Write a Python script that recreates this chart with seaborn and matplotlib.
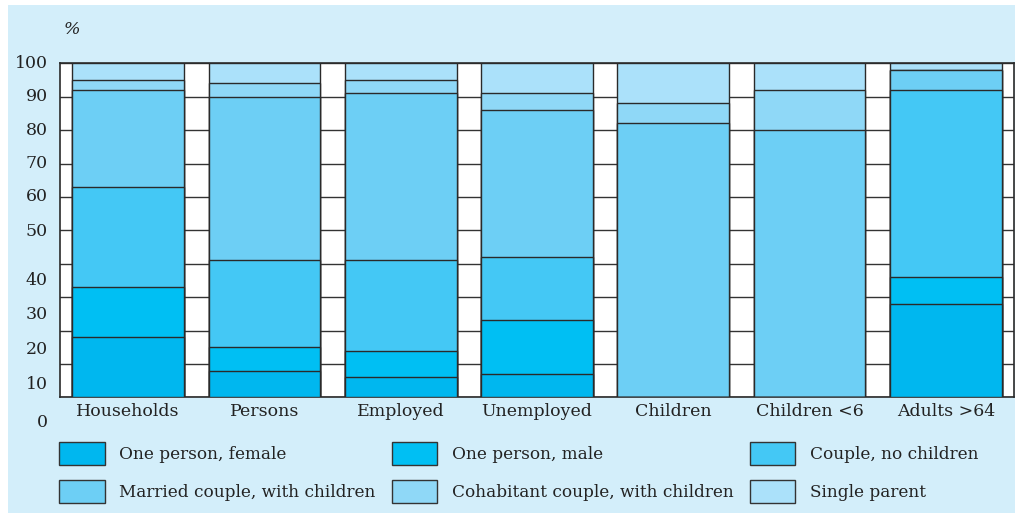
import numpy as np
import pandas as pd
import matplotlib
matplotlib.use("Agg")
import matplotlib.pyplot as plt
from matplotlib.patches import Patch, Rectangle
import seaborn as sns

# Data (percent shares)
groups = ["Households", "Persons", "Employed", "Unemployed", "Children", "Children <6", "Adults >64"]
series = ["One person, female", "One person, male", "Couple, no children",
          "Married couple, with children", "Cohabitant couple, with children", "Single parent"]
one_female = [18, 8, 6, 7, 0, 0, 28]
one_male = [15, 7, 8, 16, 0, 0, 8]
couple_no_children = [30, 26, 27, 19, 0, 0, 56]
married_children = [29, 49, 50, 44, 82, 80, 6]
cohabitant_children = [3, 4, 4, 5, 6, 12, 0]
single_parent = [5, 6, 5, 9, 12, 8, 2]

ytick_values = [100, 90, 80, 70, 60, 50, 40, 30, 20, 10, 0]
# the reference prints the lower labels slightly below their gridlines
ytick_label_pos = [100, 90, 80, 70, 60, 49.6, 35.1, 24.7, 14.2, 3.7, -7.4]

colors = ["#00B7EF", "#00BFF3", "#44C8F5", "#6DCFF5", "#8FD8F7", "#ABE1FA"]
BG = "#D3EEFA"
EDGE = "#2a2a2a"
FONT = "DejaVu Serif"
FS = 12.5

df = pd.DataFrame({"group": groups})
for name, vals in zip(series, [one_female, one_male, couple_no_children,
                               married_children, cohabitant_children, single_parent]):
    df[name] = vals
cum = df[series].cumsum(axis=1)

fig = plt.figure(figsize=(10.15, 5.13), dpi=100)
fig.patch.set_facecolor("white")
fig.patches.append(Rectangle((8 / 1015, 0), 1, (513 - 5) / 513, transform=fig.transFigure,
                             facecolor=BG, edgecolor="none", zorder=-10))

ax = fig.add_axes([60 / 1015, (513 - 397.3) / 513, (1014 - 60) / 1015, 334 / 513])
ax.set_facecolor("white")

# stacked bars: draw cumulative totals from the top segment down
for i in reversed(range(len(series))):
    sns.barplot(x=df["group"], y=cum[series[i]], color=colors[i], saturation=1,
                width=0.82, edgecolor=EDGE, linewidth=1, ax=ax, zorder=3)

ax.set_xlim(-0.5, 6.5)
ax.set_ylim(0, 100)
ax.set_yticks(ytick_values)
ax.yaxis.grid(True, color="#333333", linewidth=1)
ax.set_axisbelow(True)
ax.tick_params(axis="y", length=0, labelleft=False)
ax.tick_params(axis="x", length=0, pad=4)
ax.set_xlabel("")
ax.set_ylabel("")
for lbl in ax.get_xticklabels():
    lbl.set_fontfamily(FONT)
    lbl.set_fontsize(FS)
    lbl.set_color("#222222")
for s in ax.spines.values():
    s.set_color(EDGE)
    s.set_linewidth(1.2)

for v, p in zip(ytick_values, ytick_label_pos):
    ax.text(-0.59, p, str(v), ha="right", va="center", fontfamily=FONT,
            fontsize=FS, color="#222222", clip_on=False)

fig.text(64 / 1015, 1 - 30 / 513, "%", fontfamily=FONT, fontstyle="italic",
         fontsize=FS, color="#222222", ha="left", va="center")

handles = [Patch(facecolor=c, edgecolor="#333333", linewidth=1) for c in colors]
order = [0, 3, 1, 4, 2, 5]
fig.legend([handles[i] for i in order], [series[i] for i in order],
           loc="upper left", bbox_to_anchor=(59 / 1015, 1 - 442 / 513), ncol=3,
           frameon=False, prop={"family": FONT, "size": 12.2},
           handlelength=2.7, handleheight=1.75, handletextpad=0.85,
           columnspacing=0.95, labelspacing=0.85, borderpad=0, borderaxespad=0,
           labelcolor="#222222")

fig.savefig("out.png", dpi=100)
